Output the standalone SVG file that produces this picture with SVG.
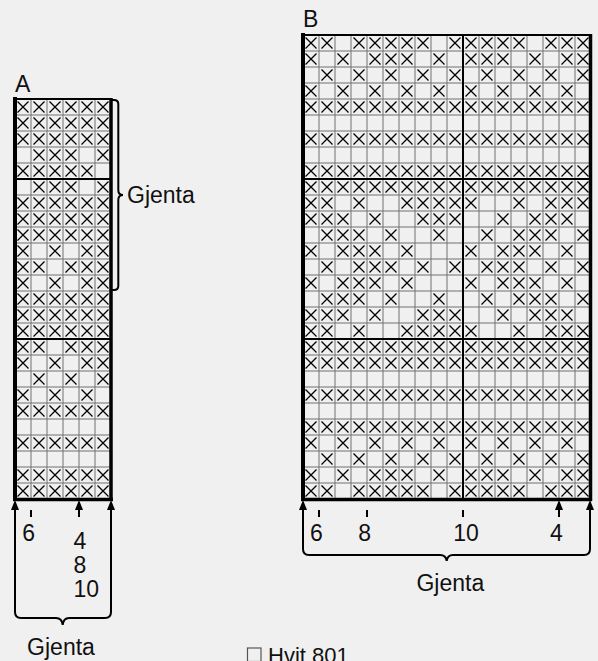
<svg xmlns="http://www.w3.org/2000/svg" xmlns:xlink="http://www.w3.org/1999/xlink" width="598" height="661" viewBox="0 0 598 661">
<style>
.bg{fill:#f0f0f0}
.xm{fill:none;stroke:#000;stroke-width:1.3}
.grid{fill:none;stroke:#707070;stroke-width:1}
.thick{fill:none;stroke:#000;stroke-width:2}
.border{fill:none;stroke:#000}
.conn{fill:none;stroke:#000;stroke-width:2}
text{font-family:"Liberation Sans",Arial,Helvetica,sans-serif;font-size:23px;fill:#111}
</style>
<defs>
<marker id="ah" viewBox="0 0 10 8" refX="0" refY="4" markerWidth="10" markerHeight="8" orient="auto-start-reverse" markerUnits="userSpaceOnUse"><path d="M0 0L10 4L0 8z" fill="#000"/></marker>
<path id="x" class="xm" d="M-5.5-5.5L5.5 5.5M5.5-5.5L-5.5 5.5"/>
<g id="aAll"><use href="#x" x="23"/><use href="#x" x="39"/><use href="#x" x="55"/><use href="#x" x="71"/><use href="#x" x="87"/><use href="#x" x="103"/></g>
<g id="aR4"><use href="#x" x="39"/><use href="#x" x="55"/><use href="#x" x="71"/><use href="#x" x="103"/></g>
<g id="aR5"><use href="#x" x="23"/><use href="#x" x="39"/><use href="#x" x="55"/><use href="#x" x="71"/><use href="#x" x="87"/></g>
<g id="aR10"><use href="#x" x="23"/><use href="#x" x="55"/><use href="#x" x="87"/><use href="#x" x="103"/></g>
<g id="aR11"><use href="#x" x="23"/><use href="#x" x="39"/><use href="#x" x="71"/><use href="#x" x="87"/><use href="#x" x="103"/></g>
<g id="aR18"><use href="#x" x="39"/><use href="#x" x="71"/><use href="#x" x="103"/></g>
<g id="aR19"><use href="#x" x="23"/><use href="#x" x="55"/><use href="#x" x="87"/></g>
<g id="bAll"><use href="#x" x="311"/><use href="#x" x="327"/><use href="#x" x="343"/><use href="#x" x="359"/><use href="#x" x="375"/><use href="#x" x="391"/><use href="#x" x="407"/><use href="#x" x="423"/><use href="#x" x="439"/><use href="#x" x="455"/><use href="#x" x="471"/><use href="#x" x="487"/><use href="#x" x="503"/><use href="#x" x="519"/><use href="#x" x="535"/><use href="#x" x="551"/><use href="#x" x="567"/><use href="#x" x="583"/></g>
<g id="bR1"><use href="#x" x="311"/><use href="#x" x="327"/><use href="#x" x="359"/><use href="#x" x="375"/><use href="#x" x="391"/><use href="#x" x="407"/><use href="#x" x="423"/><use href="#x" x="455"/><use href="#x" x="471"/><use href="#x" x="487"/><use href="#x" x="503"/><use href="#x" x="519"/><use href="#x" x="551"/><use href="#x" x="567"/><use href="#x" x="583"/></g>
<g id="bR2"><use href="#x" x="311"/><use href="#x" x="343"/><use href="#x" x="375"/><use href="#x" x="391"/><use href="#x" x="407"/><use href="#x" x="439"/><use href="#x" x="471"/><use href="#x" x="487"/><use href="#x" x="503"/><use href="#x" x="535"/><use href="#x" x="567"/><use href="#x" x="583"/></g>
<g id="bR3"><use href="#x" x="327"/><use href="#x" x="359"/><use href="#x" x="391"/><use href="#x" x="423"/><use href="#x" x="455"/><use href="#x" x="487"/><use href="#x" x="519"/><use href="#x" x="551"/><use href="#x" x="583"/></g>
<g id="bR4"><use href="#x" x="311"/><use href="#x" x="343"/><use href="#x" x="375"/><use href="#x" x="407"/><use href="#x" x="439"/><use href="#x" x="471"/><use href="#x" x="503"/><use href="#x" x="535"/><use href="#x" x="567"/></g>
<g id="bR11"><use href="#x" x="311"/><use href="#x" x="327"/><use href="#x" x="359"/><use href="#x" x="407"/><use href="#x" x="423"/><use href="#x" x="439"/><use href="#x" x="455"/><use href="#x" x="471"/><use href="#x" x="519"/><use href="#x" x="551"/><use href="#x" x="567"/><use href="#x" x="583"/></g>
<g id="bR12"><use href="#x" x="311"/><use href="#x" x="327"/><use href="#x" x="343"/><use href="#x" x="375"/><use href="#x" x="423"/><use href="#x" x="439"/><use href="#x" x="455"/><use href="#x" x="503"/><use href="#x" x="535"/><use href="#x" x="551"/><use href="#x" x="567"/></g>
<g id="bR13"><use href="#x" x="327"/><use href="#x" x="343"/><use href="#x" x="359"/><use href="#x" x="391"/><use href="#x" x="439"/><use href="#x" x="487"/><use href="#x" x="519"/><use href="#x" x="535"/><use href="#x" x="551"/><use href="#x" x="583"/></g>
<g id="bR14"><use href="#x" x="311"/><use href="#x" x="343"/><use href="#x" x="359"/><use href="#x" x="375"/><use href="#x" x="407"/><use href="#x" x="471"/><use href="#x" x="503"/><use href="#x" x="519"/><use href="#x" x="535"/><use href="#x" x="567"/></g>
<g id="bR15"><use href="#x" x="327"/><use href="#x" x="359"/><use href="#x" x="375"/><use href="#x" x="391"/><use href="#x" x="423"/><use href="#x" x="455"/><use href="#x" x="487"/><use href="#x" x="503"/><use href="#x" x="519"/><use href="#x" x="551"/><use href="#x" x="583"/></g>
</defs>
<rect class="bg" x="0" y="0" width="598" height="661"/>

<g id="chartA">
<path class="grid" d="M15 115H111M15 131H111M15 147H111M15 163H111M15 195H111M15 211H111M15 227H111M15 243H111M15 259H111M15 275H111M15 291H111M15 307H111M15 323H111M15 355H111M15 371H111M15 387H111M15 403H111M15 419H111M15 435H111M15 451H111M15 467H111M15 483H111M31 99V499M47 99V499M63 99V499M79 99V499M95 99V499"/>
<path class="thick" d="M15 179H111M15 339H111"/>
<use href="#aAll" y="107"/><use href="#aAll" y="123"/><use href="#aAll" y="139"/>
<use href="#aR4" y="155"/><use href="#aR5" y="171"/><use href="#aR4" y="187"/>
<use href="#aAll" y="203"/><use href="#aAll" y="219"/><use href="#aAll" y="235"/>
<use href="#aR10" y="251"/><use href="#aR11" y="267"/><use href="#aR10" y="283"/>
<use href="#aAll" y="299"/><use href="#aAll" y="315"/><use href="#aAll" y="331"/>
<use href="#aR11" y="347"/><use href="#aR10" y="363"/><use href="#aR18" y="379"/><use href="#aR19" y="395"/>
<use href="#aAll" y="411"/><use href="#aAll" y="443"/><use href="#aAll" y="475"/><use href="#aAll" y="491"/>
<path class="border" stroke-width="2" d="M15 99H111"/>
<path class="border" stroke-width="4" d="M15 97V501"/>
<path class="border" stroke-width="3.5" d="M111 98V501"/>
<path class="border" stroke-width="3.5" d="M13 499.5H113"/>
<text x="15" y="92">A</text>
</g>

<g id="chartB">
<path class="grid" d="M303 51H591M303 67H591M303 83H591M303 99H591M303 115H591M303 131H591M303 147H591M303 163H591M303 195H591M303 211H591M303 227H591M303 243H591M303 259H591M303 275H591M303 291H591M303 307H591M303 323H591M303 355H591M303 371H591M303 387H591M303 403H591M303 419H591M303 435H591M303 451H591M303 467H591M303 483H591M319 35V499M335 35V499M351 35V499M367 35V499M383 35V499M399 35V499M415 35V499M431 35V499M447 35V499M479 35V499M495 35V499M511 35V499M527 35V499M543 35V499M559 35V499M575 35V499"/>
<path class="thick" d="M303 179H591M303 339H591M463 35V499"/>
<use href="#bR1" y="43"/><use href="#bR2" y="59"/><use href="#bR3" y="75"/><use href="#bR4" y="91"/>
<use href="#bAll" y="107"/><use href="#bAll" y="139"/><use href="#bAll" y="171"/><use href="#bAll" y="187"/>
<use href="#bR11" y="203"/><use href="#bR12" y="219"/><use href="#bR13" y="235"/><use href="#bR14" y="251"/><use href="#bR15" y="267"/>
<use href="#bR14" y="283"/><use href="#bR13" y="299"/><use href="#bR12" y="315"/><use href="#bR11" y="331"/>
<use href="#bAll" y="347"/><use href="#bAll" y="363"/><use href="#bAll" y="395"/><use href="#bAll" y="427"/>
<use href="#bR4" y="443"/><use href="#bR3" y="459"/><use href="#bR2" y="475"/><use href="#bR1" y="491"/>
<path class="border" stroke-width="2" d="M303 35H591"/>
<path class="border" stroke-width="4" d="M303 33V501"/>
<path class="border" stroke-width="3.5" d="M590.5 34V501"/>
<path class="border" stroke-width="3.5" d="M301 499.5H592"/>
<text x="303" y="26.5">B</text>
</g>

<g id="connectors">
<path class="conn" d="M112 100H114Q118.3 100 118.3 104V190Q118.3 195 123 195Q118.3 195 118.3 200V286Q118.3 290 114 290H112"/>
<path class="conn" marker-start="url(#ah)" marker-end="url(#ah)" d="M15 510V612Q15 618 21 618H56Q62 618 62.7 625Q63.4 618 69 618H105Q111 618 111 612V510"/>
<path class="conn" marker-end="url(#ah)" d="M31 517V510M79 517V510"/>
<path class="conn" marker-start="url(#ah)" marker-end="url(#ah)" d="M303 510V549Q303 555 309 555H440Q446 555 446.7 561Q447.4 555 453 555H584Q590 555 590 549V510"/>
<path class="conn" marker-end="url(#ah)" d="M319 517V510M367 517V510M463 517V510M559 517V510"/>
</g>

<g id="labels">
<text x="127" y="203">Gjenta</text>
<text x="22.3" y="541">6</text>
<text x="73.5" y="549">4</text>
<text x="73.5" y="572.5">8</text>
<text x="73.5" y="596.5">10</text>
<text x="61" y="654.5" text-anchor="middle">Gjenta</text>
<text x="310" y="541">6</text>
<text x="358.3" y="541">8</text>
<text x="453.3" y="541">10</text>
<text x="550" y="541">4</text>
<text x="450.3" y="590.5" text-anchor="middle">Gjenta</text>
</g>

<g id="legend">
<rect x="247.5" y="648" width="13.5" height="13.5" fill="none" stroke="#555" stroke-width="1.2"/>
<text x="268" y="662.5" style="font-size:22px">Hvit 801</text>
</g>
</svg>
